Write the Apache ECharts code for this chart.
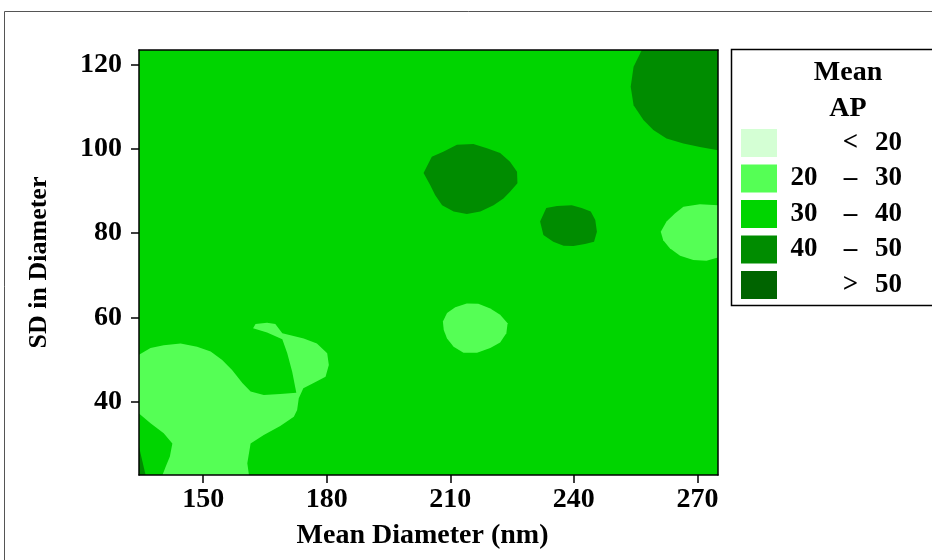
<!DOCTYPE html>
<html>
<head>
<meta charset="utf-8">
<script src="https://cdn.jsdelivr.net/npm/echarts@6/dist/echarts.min.js"></script>
<style>html,body{margin:0;padding:0;background:#fff}#c{width:932px;height:560px}</style>
</head>
<body>
<div id="c"></div>
<script>
// ---- data ----
const xTicks = [150, 180, 210, 240, 270];
const yTicks = [40, 60, 80, 100, 120];
const xRange = [134.4, 275];
const yRange = [22.6, 123.4];
const levels = ['< 20', '20 – 30', '30 – 40', '40 – 50', '> 50'];

// contour regions (Mean Diameter, SD in Diameter) per level band
const regionsBelow20 = [];
const regions20to30 = [
  [[134.4,51.1],[137.2,52.7],[140.4,53.4],[144.5,53.8],[148.5,53.0],[151.8,51.9],[154.6,49.9],[157.0,47.5],[159.5,44.4],[161.5,42.4],[164.7,41.6],[168.7,41.8],[172.6,42.1],[171.6,47.1],[170.4,51.5],[169.2,54.8],[165.5,56.4],[162.1,57.4],[162.7,58.4],[165.5,58.7],[167.5,58.4],[169.2,56.2],[174.4,55.0],[177.6,53.8],[180.1,51.5],[180.5,48.7],[179.7,45.9],[176.8,44.4],[174.3,43.2],[173.2,40.8],[172.8,38.0],[172.0,36.4],[168.7,34.2],[164.7,32.1],[161.5,30.1],[160.7,25.4],[161.1,22.6],[140.1,22.6],[140.9,24.6],[141.9,27.0],[142.5,30.1],[140.4,32.5],[137.2,34.9],[134.4,37.2]],
  [[208.2,59.0],[209.2,61.0],[211.2,62.4],[214.0,63.3],[216.8,63.2],[219.7,62.1],[222.1,60.6],[223.9,58.6],[223.6,56.2],[222.1,54.0],[219.7,52.7],[216.5,51.6],[213.2,51.6],[210.8,53.0],[209.2,55.0],[208.4,57.0]],
  [[275,86.6],[270.6,86.8],[266.6,86.2],[264.6,84.7],[262.5,82.7],[261.1,80.3],[261.7,78.3],[263.3,76.4],[265.8,74.6],[269.0,73.6],[272.2,73.4],[275,74.2]]
];
const regions30to40 = [
  [[134.4,22.6],[275,22.6],[275,123.4],[134.4,123.4]]
];
const regions40to50 = [
  [[256.5,123.4],[254.5,119.4],[253.8,114.7],[254.5,110.3],[256.9,106.8],[259.3,104.4],[262.5,102.4],[266.6,101.2],[270.6,100.4],[275,99.6],[275,123.4]],
  [[203.5,94.2],[205.5,98.1],[208.4,99.3],[211.6,100.9],[215.6,101.1],[218.9,100.1],[222.1,99.0],[224.5,96.9],[226.2,94.5],[226.3,91.8],[224.5,89.8],[222.9,88.2],[220.5,86.6],[217.3,85.1],[214.0,84.5],[210.8,85.1],[208.0,86.6],[206.3,89.0],[205.1,91.4]],
  [[231.8,82.7],[233.3,85.9],[235.9,86.4],[239.5,86.6],[241.9,85.9],[244.1,85.1],[245.2,83.1],[245.6,80.3],[244.9,77.9],[242.7,77.4],[239.9,76.9],[237.5,77.0],[235.0,77.9],[232.6,79.5],[232.2,81.1]],
  [[134.4,29.3],[136.0,22.6],[134.4,22.6]]
];
const regionsAbove50 = [];

// ---- styling ----
const levelRegions = [regionsBelow20, regions20to30, regions30to40, regions40to50, regionsAbove50];
const palette = ['#d4ffd4', '#55ff55', '#00d500', '#008c00', '#006400'];
const FONT = '"Liberation Serif", "Times New Roman", serif';

const chart = echarts.init(document.getElementById('c'), null, {renderer: 'canvas'});

const series = levels.map((name, li) => ({
  type: 'custom',
  name: name,
  coordinateSystem: 'cartesian2d',
  xAxisIndex: 0, yAxisIndex: 0,
  clip: true,
  z: li === 2 ? 1 : 2,
  itemStyle: {color: palette[li]},
  encode: {x: 0, y: 1},
  data: levelRegions[li].map(r => [r[0][0], r[0][1]]),
  renderItem: function (params, api) {
    const poly = levelRegions[li][params.dataIndex];
    const pts = poly.map(p => api.coord(p));
    return {type: 'polygon', shape: {points: pts}, style: {fill: palette[li], stroke: null}};
  },
  silent: true,
  animation: false
}));

const st = (fs) => ({fontFamily: FONT, fontWeight: 'bold', fontSize: fs, color: '#000'});

const option = {
  animation: false,
  backgroundColor: '#fff',
  grid: {left: 139, top: 50, right: 214, bottom: 85, containLabel: false},
  xAxis: [{
    type: 'value', min: xRange[0], max: xRange[1], position: 'bottom', z: 10,
    axisLine: {show: true, onZero: false, lineStyle: {color: '#000', width: 1.5}},
    axisTick: {show: true, length: 8, customValues: xTicks, lineStyle: {color: '#000', width: 1.5}},
    axisLabel: Object.assign({customValues: xTicks, margin: 11}, st(28)),
    splitLine: {show: false},
    name: 'Mean Diameter (nm)', nameLocation: 'middle', nameGap: 47,
    nameTextStyle: Object.assign({padding: [0, 12, 0, 0]}, st(28))
  }, {
    type: 'value', min: xRange[0], max: xRange[1], position: 'top', z: 10,
    axisLine: {show: true, onZero: false, lineStyle: {color: '#000', width: 1.5}},
    axisTick: {show: false}, axisLabel: {show: false}, splitLine: {show: false}
  }],
  yAxis: [{
    type: 'value', min: yRange[0], max: yRange[1], position: 'left', z: 10,
    axisLine: {show: true, onZero: false, lineStyle: {color: '#000', width: 1.5}},
    axisTick: {show: true, length: 8, customValues: yTicks, lineStyle: {color: '#000', width: 1.5}},
    axisLabel: Object.assign({customValues: yTicks, margin: 17}, st(28)),
    splitLine: {show: false},
    name: 'SD in Diameter', nameLocation: 'middle', nameGap: 87,
    nameTextStyle: st(26)
  }, {
    type: 'value', min: yRange[0], max: yRange[1], position: 'right', z: 10,
    axisLine: {show: true, onZero: false, lineStyle: {color: '#000', width: 1.5}},
    axisTick: {show: false}, axisLabel: {show: false}, splitLine: {show: false}
  }],
  legend: {
    data: levels,
    orient: 'vertical',
    left: 741, top: 129,
    itemWidth: 36, itemHeight: 28, itemGap: 7.5,
    icon: 'rect',
    selectedMode: false,
    padding: 0,
    formatter: function (name) {
      const p = name.split(' ');
      const a = p.length === 3 ? p[0] : '';
      const b = p.length === 3 ? p[1] : p[0];
      const c = p[p.length - 1];
      return '{a|' + a + '}{b|' + b + '}{c|' + c + '}';
    },
    textStyle: {
      rich: {
        a: Object.assign({width: 44, align: 'right', lineHeight: 28}, st(27)),
        b: Object.assign({width: 49, align: 'center', lineHeight: 28}, st(27)),
        c: Object.assign({align: 'left', lineHeight: 28}, st(27))
      }
    }
  },
  graphic: [
    {type: 'rect', silent: true, z: -1, shape: {x: 4.5, y: 11.5, width: 1000, height: 600}, style: {fill: null, stroke: '#555', lineWidth: 1}},
    {type: 'rect', silent: true, shape: {x: 731.5, y: 49.5, width: 300, height: 256}, style: {fill: null, stroke: '#000', lineWidth: 1.5}},
    {type: 'text', silent: true, x: 848, y: 73, style: {text: 'Mean', textAlign: 'center', textVerticalAlign: 'middle', font: 'bold 28px ' + FONT, fill: '#000'}},
    {type: 'text', silent: true, x: 848, y: 109, style: {text: 'AP', textAlign: 'center', textVerticalAlign: 'middle', font: 'bold 28px ' + FONT, fill: '#000'}}
  ],
  series: series
};
chart.setOption(option);
</script>
</body>
</html>
